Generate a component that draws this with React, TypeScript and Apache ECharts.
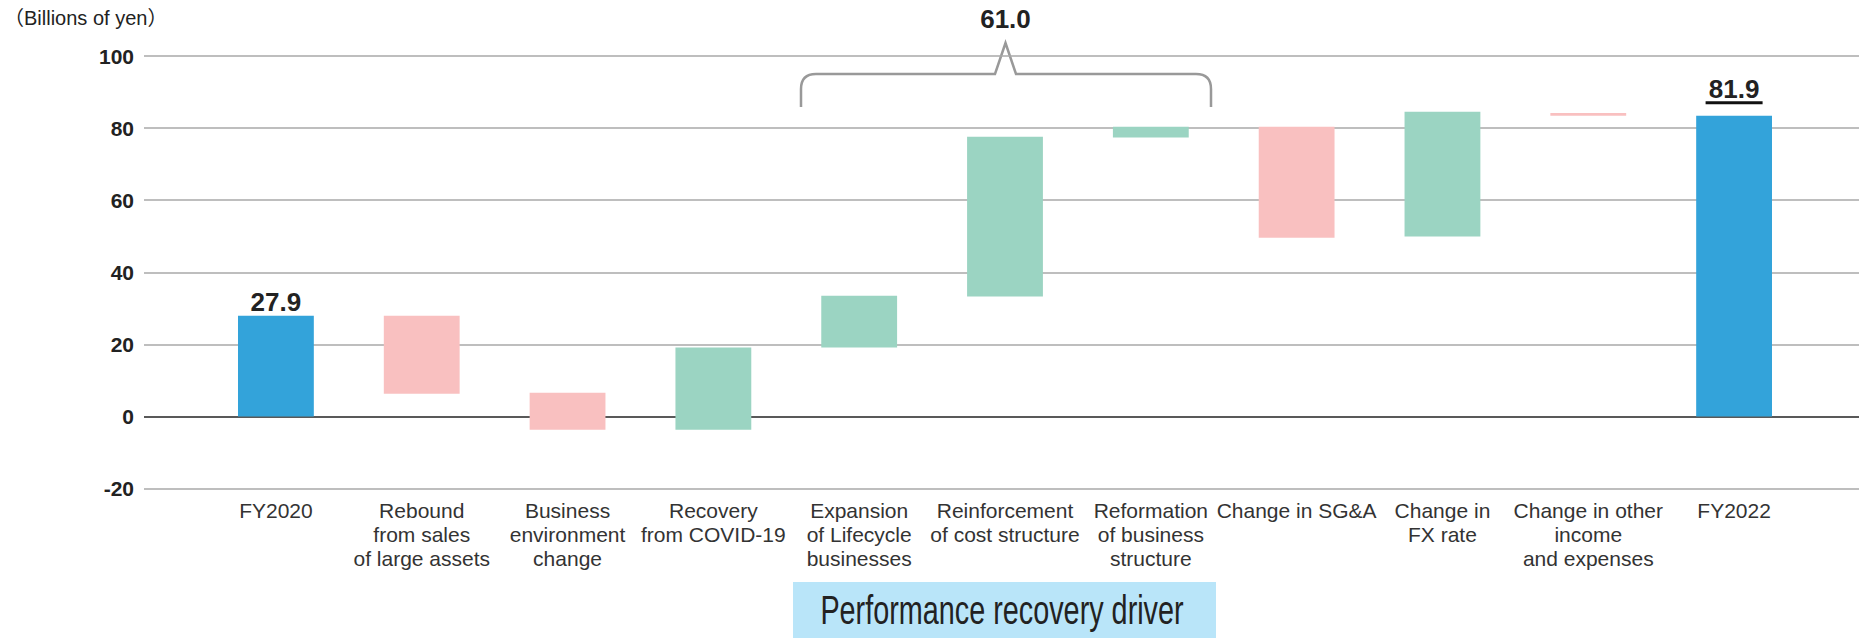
import React, { useEffect, useRef } from "react";
import * as echarts from "echarts";

const categories = [
  "FY2020",
  "Rebound\nfrom sales\nof large assets",
  "Business\nenvironment\nchange",
  "Recovery\nfrom COVID-19",
  "Expansion\nof Lifecycle\nbusinesses",
  "Reinforcement\nof cost structure",
  "Reformation\nof business\nstructure",
  "Change in SG&A",
  "Change in\nFX rate",
  "Change in other\nincome\nand expenses",
  "FY2022",
];
const lows = [0, 6.3, -3.7, -3.7, 19.1, 33.3, 77.4, 49.6, 49.9, 83.4, 0];
const highs = [27.9, 27.9, 6.6, 19.1, 33.5, 77.6, 80.4, 80.4, 84.5, 84.2, 83.4];
const kinds = ["total", "down", "down", "up", "up", "up", "up", "down", "up", "down", "total"];
const valueLabels = ["27.9", "", "", "", "", "", "", "", "", "", "81.9"];
const underlined = [false, false, false, false, false, false, false, false, false, false, true];
const bracketLabel = "61.0";
const unitLabel = "（Billions of yen）";
const groupLabel = "Performance recovery driver";
const yMin = -20;
const yMax = 100;
const yStep = 20;

const COLORS: Record<string, string> = { total: "#33a3da", down: "#f9c0c0", up: "#9bd4c2" };
const FONT = "'Liberation Sans', Arial, 'Noto Sans CJK JP', sans-serif";

echarts.graphic.registerShape(
  "bracket",
  echarts.graphic.extendPath(
    "M801,107 L801,89 Q801,74 816,74 L995,74 L1005.5,43 L1016,74 L1196,74 Q1211,74 1211,89 L1211,107",
    {}
  )
);

export default function App() {
  const ref = useRef<HTMLDivElement>(null);
  useEffect(() => {
    if (!ref.current) return;
    const chart = echarts.init(ref.current, null, { renderer: "svg" });
    const data = categories.map((_, i) => [i, lows[i], highs[i]]);
    const splitColors = [];
    for (let v = yMin; v <= yMax; v += yStep) splitColors.push(v === 0 ? "#222222" : "#a8a8a8");
    chart.setOption({
      animation: false,
      backgroundColor: "#ffffff",
      grid: [
        { left: 144, right: 0, top: 56, height: 432.5 },
        { left: 203, width: 1604, top: 56, height: 432.5 },
      ],
      xAxis: [
        { type: "value", gridIndex: 0, min: 0, max: 1, show: false },
        {
          type: "category",
          gridIndex: 1,
          data: categories,
          axisLine: { show: false },
          axisTick: { show: false },
          axisLabel: {
            interval: 0,
            margin: 10,
            fontFamily: FONT,
            fontSize: 21,
            lineHeight: 24,
            color: "#333333",
            align: "center",
          },
        },
      ],
      yAxis: [
        {
          type: "value",
          gridIndex: 0,
          min: yMin,
          max: yMax,
          interval: yStep,
          axisLine: { show: false },
          axisTick: { show: false },
          axisLabel: {
            margin: 10,
            fontFamily: FONT,
            fontSize: 21,
            fontWeight: "bold",
            color: "#222222",
          },
          splitLine: { show: true, lineStyle: { color: splitColors, width: 1.6 } },
        },
        { type: "value", gridIndex: 1, min: yMin, max: yMax, interval: yStep, show: false, splitLine: { show: false } },
      ],
      series: [
        {
          type: "custom",
          xAxisIndex: 1,
          yAxisIndex: 1,
          encode: { x: 0, y: [1, 2] },
          data,
          renderItem: (params: any, api: any) => {
            const i = api.value(0);
            const lo = api.value(1);
            const hi = api.value(2);
            const pTop = api.coord([i, hi]);
            const pBot = api.coord([i, lo]);
            const w = api.size([1, 0])[0] * 0.52;
            const children: any[] = [
              {
                type: "rect",
                shape: { x: pTop[0] - w / 2, y: pTop[1], width: w, height: Math.max(pBot[1] - pTop[1], 1) },
                style: { fill: COLORS[kinds[i]] },
              },
            ];
            const lbl = valueLabels[i];
            if (lbl) {
              const gap = underlined[i] ? 27 : 14;
              children.push({
                type: "text",
                x: pTop[0],
                y: pTop[1] - gap,
                style: {
                  text: lbl,
                  fontFamily: FONT,
                  fontSize: 26,
                  fontWeight: "bold",
                  fill: "#222222",
                  align: "center",
                  verticalAlign: "middle",
                },
              });
              if (underlined[i]) {
                children.push({
                  type: "rect",
                  shape: { x: pTop[0] - 28.5, y: pTop[1] - 14.5, width: 57, height: 3 },
                  style: { fill: "#111111" },
                });
              }
            }
            return { type: "group", children };
          },
        },
      ],
      graphic: [
        {
          type: "text",
          x: 4,
          y: 18,
          style: { text: unitLabel, fontFamily: FONT, fontSize: 20, fill: "#222222", verticalAlign: "middle" },
        },
        {
          type: "bracket",
          x: 0,
          y: 0,
          style: { stroke: "#999999", lineWidth: 2.5, fill: "none" },
        },
        {
          type: "text",
          x: 1005.5,
          y: 19,
          style: {
            text: bracketLabel,
            fontFamily: FONT,
            fontSize: 26,
            fontWeight: "bold",
            fill: "#222222",
            align: "center",
            verticalAlign: "middle",
          },
        },
        {
          type: "rect",
          shape: { x: 793, y: 582, width: 423, height: 56 },
          style: { fill: "#b9e5f9" },
        },
        {
          type: "text",
          x: 1002,
          y: 610,
          scaleX: 0.72,
          style: {
            text: groupLabel,
            fontFamily: FONT,
            fontSize: 40,
            fill: "#222222",
            align: "center",
            verticalAlign: "middle",
          },
        },
      ],
    });
    return () => chart.dispose();
  }, []);
  return (
    <div
      ref={ref}
      style={{ position: "absolute", left: 0, top: 0, width: 1859, height: 639 }}
    />
  );
}
